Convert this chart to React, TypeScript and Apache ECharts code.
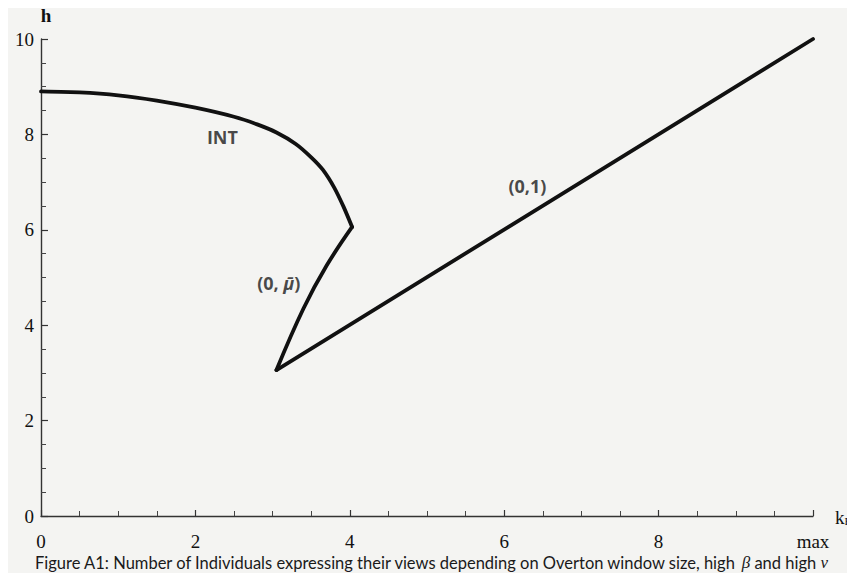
import React, { useEffect, useRef } from "react";
import * as echarts from "echarts";

// x axis ticks (the last one is shown as "max")
const xTicks = [0, 2, 4, 6, 8, 10];
const yTicks = [0, 2, 4, 6, 8, 10];

// INT boundary curve
const intCurve: number[][] = [
  [0, 8.9], [0.5, 8.88], [1, 8.82], [1.5, 8.71], [2, 8.56], [2.5, 8.37],
  [2.8, 8.21], [3.05, 8.04], [3.3, 7.8], [3.5, 7.52], [3.65, 7.26],
  [3.8, 6.88], [3.92, 6.48], [4.03, 6.06],
];
// (0, mu-bar) branch
const muBranch: number[][] = [
  [4.03, 6.06], [3.7, 5.25], [3.4, 4.35], [3.05, 3.06],
];
// (0,1) boundary line
const oneLine: number[][] = [
  [3.05, 3.06], [10, 10],
];

// region labels
const annotationText = ["INT", "(0,1)", "(0, {i|μ̄})"];
const annotationX = [2.35, 6.3, 3.08];
const annotationY = [7.95, 6.92, 4.88];

const caption = "Figure A1: Number of Individuals expressing their views depending on Overton window size, high ";

export default function App() {
  const ref = useRef<HTMLDivElement>(null);
  useEffect(() => {
    if (!ref.current) return;
    const chart = echarts.init(ref.current, null, { renderer: "svg" });
    const lineStyle = { color: "#111", width: 3.8, cap: "round" as const, join: "round" as const };
    const serif = "Liberation Serif";
    chart.setOption({
      animation: false,
      backgroundColor: "#f4f4f2",
      grid: { left: 41, right: 42, top: 39, bottom: 65 },
      xAxis: {
        type: "value",
        min: 0,
        max: 10,
        interval: 2,
        name: "{k|k}{s|R}",
        nameLocation: "end",
        nameGap: 22,
        nameTextStyle: {
          rich: {
            k: { fontFamily: serif, fontSize: 19, color: "#111", verticalAlign: "bottom" },
            s: { fontFamily: serif, fontSize: 11, color: "#111", padding: [10, 0, 0, 0] },
          },
        },
        axisLine: { lineStyle: { color: "#333", width: 1.4 } },
        axisTick: { inside: true, length: 6, lineStyle: { color: "#333", width: 1.2 } },
        minorTick: { show: true, splitNumber: 4, length: 5, lineStyle: { color: "#444", width: 1 } },
        splitLine: { show: false },
        axisLabel: {
          margin: 16,
          fontFamily: serif,
          fontSize: 19,
          color: "#111",
          formatter: (v: number) => (v === xTicks[xTicks.length - 1] ? "max" : String(v)),
        },
      },
      yAxis: {
        type: "value",
        min: 0,
        max: 10,
        interval: 2,
        name: "h",
        nameLocation: "end",
        nameGap: 14,
        nameTextStyle: { fontFamily: serif, fontSize: 19, fontWeight: "bold", color: "#111", padding: [0, 0, 0, 10] },
        axisLine: { lineStyle: { color: "#333", width: 1.4 } },
        axisTick: { inside: true, length: 7, lineStyle: { color: "#333", width: 1.2 } },
        minorTick: { show: true, splitNumber: 4, length: 5, lineStyle: { color: "#444", width: 1 } },
        splitLine: { show: false },
        axisLabel: {
          margin: 7,
          fontFamily: serif,
          fontSize: 19,
          color: "#111",
          formatter: (v: number) => (yTicks.includes(v) ? String(v) : ""),
        },
      },
      series: [
        { type: "line", data: intCurve, showSymbol: false, smooth: 0.2, lineStyle },
        { type: "line", data: muBranch, showSymbol: false, smooth: 0.4, lineStyle },
        { type: "line", data: oneLine, showSymbol: false, lineStyle },
        {
          type: "scatter",
          symbolSize: 0,
          data: annotationText.map((t, i) => ({ name: t, value: [annotationX[i], annotationY[i]] })),
          label: {
            show: true,
            position: "inside",
            formatter: (p: any) => p.name,
            fontFamily: "Open Sans",
            fontWeight: "bold",
            fontSize: 18,
            color: "#1a1a1a",
            rich: {
              i: { fontFamily: "Open Sans", fontStyle: "italic", fontWeight: "bold", fontSize: 18, color: "#1a1a1a" },
            },
          },
        },
      ],
      graphic: [
        {
          type: "text",
          left: 35,
          top: 554,
          style: {
            text: caption + "{g|β} and high {g|ν}",
            fontFamily: "Lato",
            fontSize: 16.5,
            fill: "#1a1a1a",
            rich: {
              g: { fontFamily: serif, fontStyle: "italic", fontSize: 17, fill: "#1a1a1a" },
            },
          },
        },
      ],
    });
    return () => chart.dispose();
  }, []);
  return <div ref={ref} style={{ width: 855, height: 581, margin: -8 }} />;
}
